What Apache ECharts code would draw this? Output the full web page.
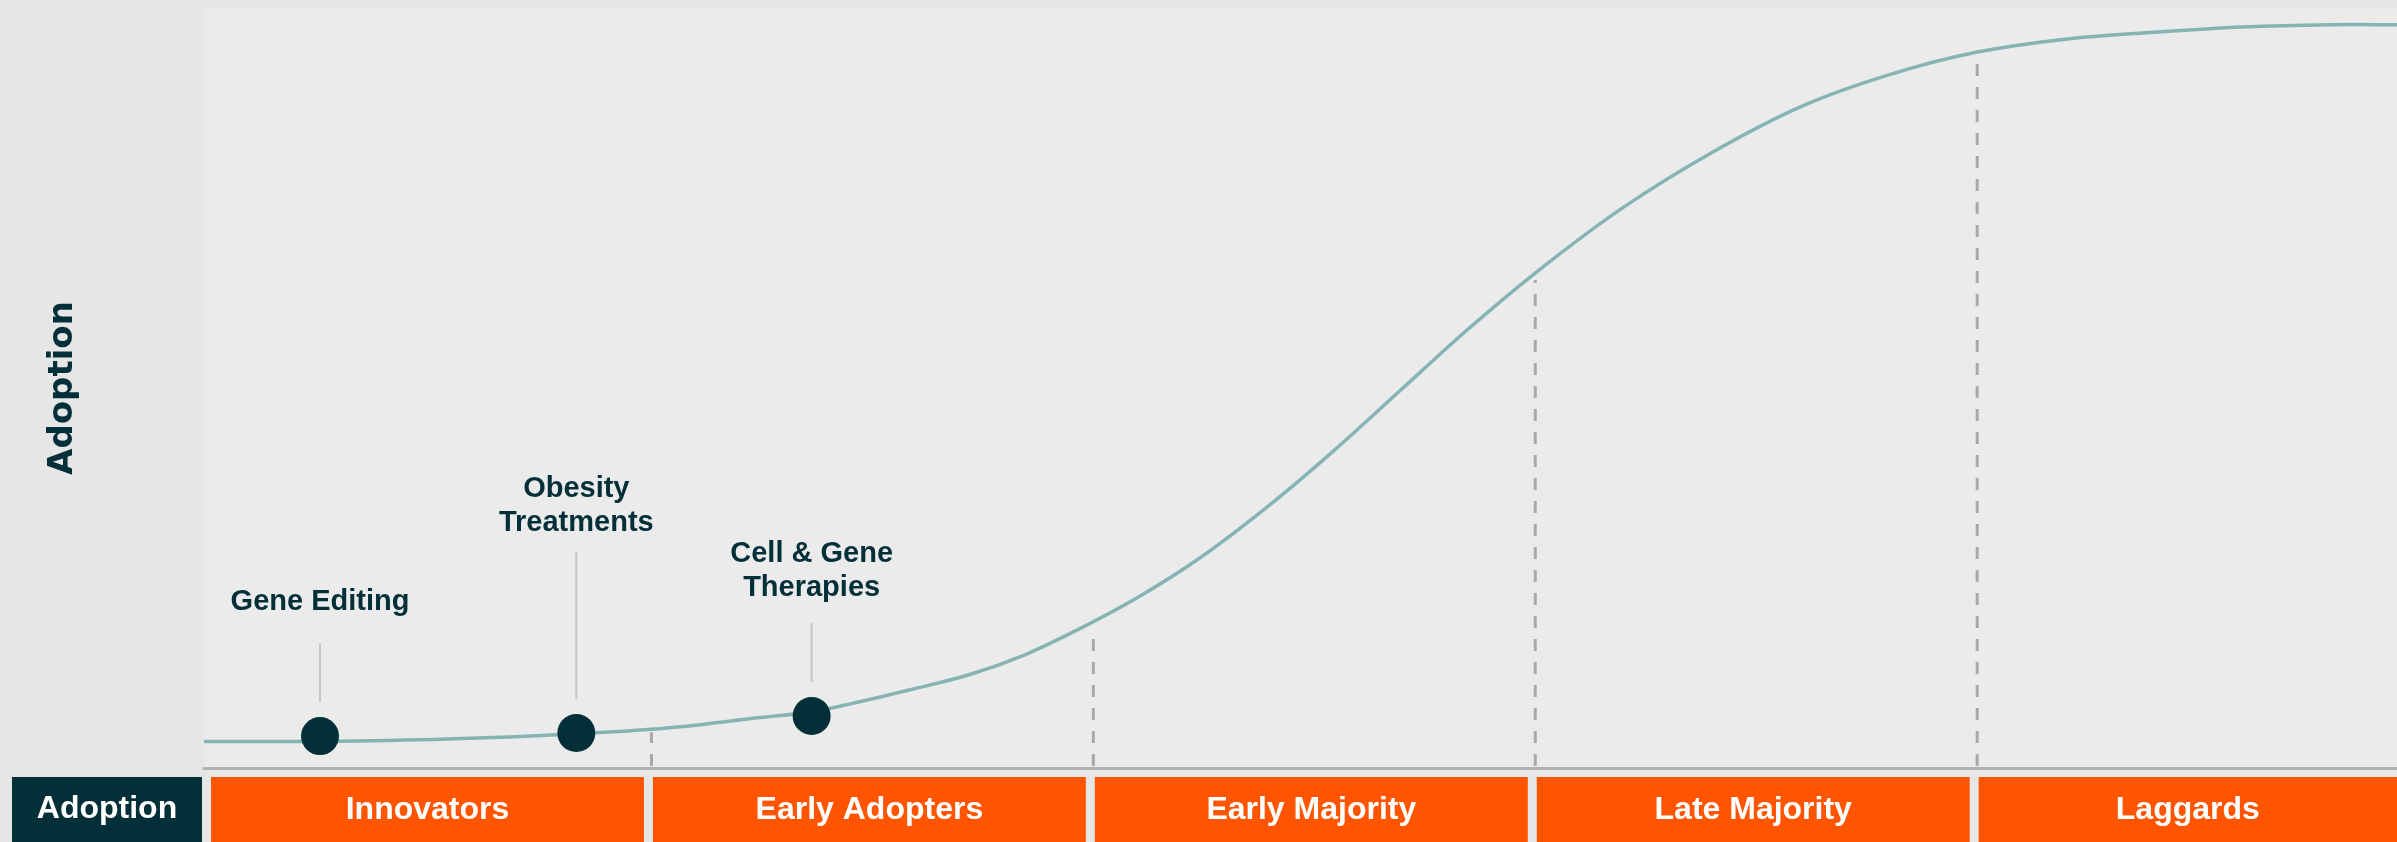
<!DOCTYPE html>
<html>
<head>
<meta charset="utf-8">
<script src="https://cdn.jsdelivr.net/npm/echarts@6/dist/echarts.min.js"></script>
<style>
html,body{margin:0;padding:0;background:#e6e6e6;}
#chart{width:2397px;height:842px;}
</style>
</head>
<body>
<div id="chart"></div>
<script>
// ---- data ----
const curveX = [-0.25, 5, 10.8, 16.6, 20, 22.2, 24.8, 27.3, 29.1, 31.7, 34.3, 36.9, 39.5, 42.1, 44.7, 48.1, 50.9, 53.9, 56.9, 59.9, 64, 68, 72, 76, 80, 84, 88, 92, 96, 99];
const curveY = [3.5, 3.5, 3.8, 4.5, 5.1, 5.7, 6.6, 7.4, 8.5, 10.3, 12.2, 14.9, 18.5, 22.6, 27.4, 34.9, 41.8, 49.7, 57.6, 64.9, 73.8, 81.0, 87.0, 91.2, 94.2, 95.9, 96.8, 97.5, 97.8, 97.8];
const techNames = ['Gene Editing', 'Obesity\nTreatments', 'Cell & Gene\nTherapies'];
const techX = [5, 16.6, 27.25];
const techY = [4.2, 4.6, 6.85];
const boundaryX = [20, 40, 60, 80];
const boundaryTop = [4.7, 18.4, 64.2, 93.3];
const bandNames = ['Innovators', 'Early Adopters', 'Early Majority', 'Late Majority', 'Laggards'];
const bandStart = [0, 20, 40, 60, 80];
const bandEnd = [20, 40, 60, 80, 100];
const rowLabel = ['Adoption'];
const axisTitle = 'Adoption';

// ---- styles ----
const DARK = '#032f38';
const ORANGE = '#ff5500';
const calloutStyle = [{len: 59, gap: 41}, {len: 147, gap: 29}, {len: 59, gap: 35}];
const FONT = '"Liberation Sans", Arial, sans-serif';

// centripetal Catmull-Rom through pixel points -> SVG path
function smoothPath(pts) {
  const a = 0.5;
  const n = pts.length;
  const P = i => pts[Math.max(0, Math.min(n - 1, i))];
  const dist = (p, q) => Math.max(1e-6, Math.hypot(q[0] - p[0], q[1] - p[1]));
  let d = 'M' + pts[0][0] + ' ' + pts[0][1];
  for (let i = 0; i < n - 1; i++) {
    const p0 = P(i - 1), p1 = P(i), p2 = P(i + 1), p3 = P(i + 2);
    const d1 = i === 0 ? dist(p1, p2) : dist(p0, p1);
    const d2 = dist(p1, p2);
    const d3 = i === n - 2 ? dist(p1, p2) : dist(p2, p3);
    const q0 = i === 0 ? [2 * p1[0] - p2[0], 2 * p1[1] - p2[1]] : p0;
    const q3 = i === n - 2 ? [2 * p2[0] - p1[0], 2 * p2[1] - p1[1]] : p3;
    const d1a = Math.pow(d1, a), d2a = Math.pow(d2, a), d3a = Math.pow(d3, a);
    const d1b = d1a * d1a, d2b = d2a * d2a, d3b = d3a * d3a;
    const b1 = [0, 1].map(k => (d1b * p2[k] - d2b * q0[k] + (2 * d1b + 3 * d1a * d2a + d2b) * p1[k]) / (3 * d1a * (d1a + d2a)));
    const b2 = [0, 1].map(k => (d3b * p1[k] - d2b * q3[k] + (2 * d3b + 3 * d3a * d2a + d2b) * p2[k]) / (3 * d3a * (d3a + d2a)));
    d += ' C' + b1[0] + ' ' + b1[1] + ' ' + b2[0] + ' ' + b2[1] + ' ' + p2[0] + ' ' + p2[1];
  }
  return d;
}

const chart = echarts.init(document.getElementById('chart'), null, {renderer: 'canvas'});

const option = {
  backgroundColor: '#e6e6e6',
  animation: false,
  grid: [
    {left: 204, right: 0, top: 8, bottom: 74, show: true, backgroundColor: '#ebebeb', borderWidth: 0},
    {left: 204, right: 0, top: 777, bottom: 0}
  ],
  xAxis: [
    {gridIndex: 0, type: 'value', min: -0.25, max: 99,
     axisLine: {show: true, onZero: false, lineStyle: {color: '#b2b2b2', width: 3}},
     axisTick: {show: false}, axisLabel: {show: false}, splitLine: {show: false}},
    {gridIndex: 1, type: 'value', min: -0.25, max: 99, show: false}
  ],
  yAxis: [
    {gridIndex: 0, type: 'value', min: 0, max: 100,
     name: axisTitle, nameLocation: 'middle', nameRotate: 90, nameGap: 124,
     nameTextStyle: {color: DARK, fontSize: 34, fontWeight: 'bold', fontFamily: '"DejaVu Sans", sans-serif'},
     axisLine: {show: false}, axisTick: {show: false}, axisLabel: {show: false}, splitLine: {show: false}},
    {gridIndex: 1, type: 'category', data: rowLabel,
     axisLine: {show: false}, axisTick: {show: false}, splitLine: {show: false},
     axisLabel: {
       margin: 2,
       formatter: v => '{a|' + v + '}',
       rich: {a: {width: 190, height: 65, lineHeight: 65, align: 'center', backgroundColor: DARK,
                  color: '#ffffff', fontSize: 32, fontWeight: 'bold', fontFamily: FONT}}
     }}
  ],
  series: [
    {
      type: 'custom', xAxisIndex: 0, yAxisIndex: 0, z: 2,
      data: boundaryX.map((x, i) => [x, boundaryTop[i]]),
      renderItem(params, api) {
        const p0 = api.coord([api.value(0), 0]);
        const p1 = api.coord([api.value(0), api.value(1)]);
        return {type: 'line', shape: {x1: p0[0], y1: p0[1] - 2, x2: p1[0], y2: p1[1]},
                style: {stroke: '#a9a9a9', lineWidth: 3, lineDash: [12, 11]}};
      }
    },
    {
      name: 'Adoption curve',
      type: 'custom', xAxisIndex: 0, yAxisIndex: 0, z: 3, clip: true,
      data: curveX.map((x, i) => [x, curveY[i]]),
      renderItem(params, api) {
        if (params.dataIndex !== 0) return null;
        const pts = curveX.map((x, i) => api.coord([x, curveY[i]]));
        return {type: 'path', shape: {pathData: smoothPath(pts)},
                style: {fill: 'none', stroke: '#86b4b4', lineWidth: 3.5}};
      }
    },
    {
      type: 'custom', xAxisIndex: 0, yAxisIndex: 0, z: 4,
      data: techX.map((x, i) => [x, techY[i]]),
      renderItem(params, api) {
        const i = params.dataIndex;
        const p = api.coord([api.value(0), api.value(1)]);
        const r = 19;
        const st = calloutStyle[i];
        const lineBottom = p[1] - r - 15;
        const lineTop = lineBottom - st.len;
        return {type: 'group', children: [
          {type: 'line', shape: {x1: p[0], y1: lineTop, x2: p[0], y2: lineBottom},
           style: {stroke: '#c6c6c6', lineWidth: 2}},
          {type: 'circle', shape: {cx: p[0], cy: p[1], r: r}, style: {fill: DARK}},
          {type: 'text', x: p[0], y: lineTop - st.gap + 17,
           style: {text: techNames[i], fill: DARK, font: 'bold 29px ' + FONT,
                   lineHeight: 34, align: 'center', verticalAlign: 'bottom'}}
        ]};
      }
    },
    {
      type: 'custom', xAxisIndex: 1, yAxisIndex: 1, clip: true,
      data: bandStart.map((s, i) => [s, bandEnd[i], 0]),
      renderItem(params, api) {
        const i = params.dataIndex;
        const c0 = api.coord([api.value(0), 0]);
        const c1 = api.coord([api.value(1), 0]);
        const h = api.size([0, 1])[1];
        const x0 = c0[0] + 1.5, x1 = c1[0] - 7.5;
        return {type: 'group', children: [
          {type: 'rect', shape: {x: x0, y: c0[1] - h / 2, width: x1 - x0, height: h}, style: {fill: ORANGE}},
          {type: 'text', x: (x0 + Math.min(x1, params.coordSys.x + params.coordSys.width)) / 2, y: c0[1] + 1,
           style: {text: bandNames[i], fill: '#ffffff', font: 'bold 32px ' + FONT,
                   align: 'center', verticalAlign: 'middle'}}
        ]};
      }
    }
  ]
};
chart.setOption(option);
</script>
</body>
</html>
